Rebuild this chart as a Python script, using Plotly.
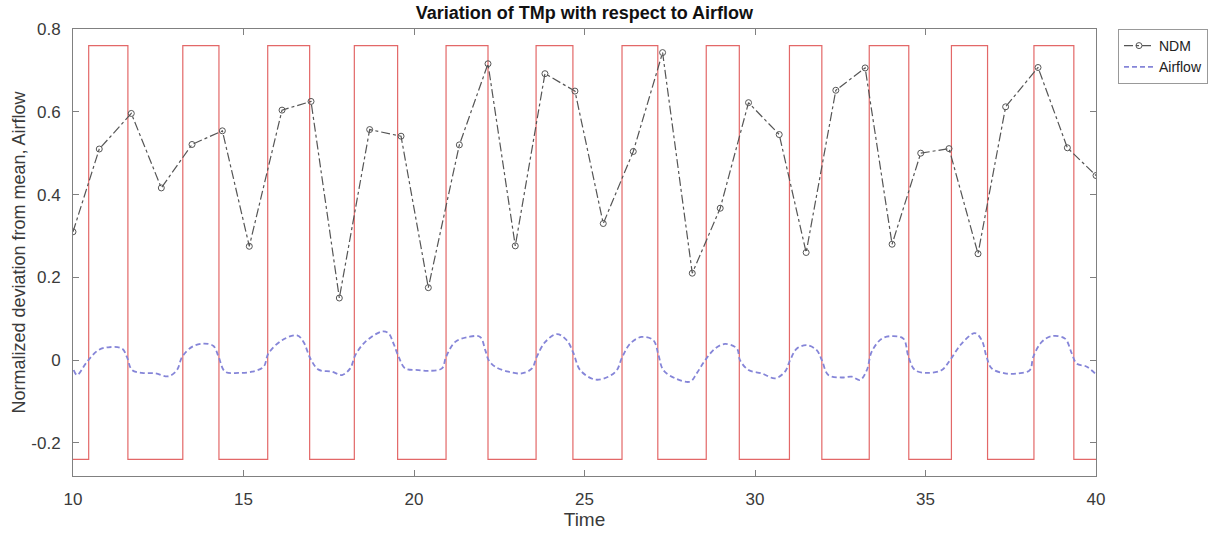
import plotly.graph_objects as go

# NDM samples (time, normalized deviation)
ndm_time = [10.0, 10.77, 11.71, 12.59, 13.49, 14.38, 15.17, 16.13, 16.98, 17.81,
            18.70, 19.62, 20.42, 21.33, 22.17, 22.97, 23.84, 24.72, 25.55, 26.43,
            27.29, 28.16, 28.98, 29.81, 30.71, 31.50, 32.37, 33.23, 34.02, 34.86,
            35.69, 36.54, 37.35, 38.30, 39.16, 40.0]
ndm_value = [0.31, 0.510, 0.596, 0.416, 0.521, 0.554, 0.275, 0.604, 0.625, 0.150,
             0.557, 0.541, 0.175, 0.520, 0.716, 0.276, 0.692, 0.650, 0.330, 0.504,
             0.743, 0.210, 0.367, 0.622, 0.545, 0.260, 0.652, 0.706, 0.280, 0.500,
             0.511, 0.257, 0.612, 0.707, 0.513, 0.446]

# Airflow response (time, normalized deviation)
air_time = [10.02, 10.12, 10.41, 10.74, 11.03, 11.44, 11.58, 11.73, 12.02, 12.41,
            12.80, 13.05, 13.20, 13.49, 13.83, 14.12, 14.27, 14.46, 14.85, 15.25,
            15.59, 15.73, 16.13, 16.57, 16.76, 16.96, 17.20, 17.59, 17.89, 18.13,
            18.28, 18.57, 19.06, 19.25, 19.40, 19.55, 19.74, 20.13, 20.43, 20.82,
            20.94, 21.21, 21.60, 21.94, 22.09, 22.19, 22.38, 22.77, 23.16, 23.46,
            23.60, 23.85, 24.19, 24.48, 24.68, 24.87, 25.31, 25.70, 25.95, 26.09,
            26.34, 26.68, 27.02, 27.17, 27.31, 27.66, 28.10, 28.29, 28.54, 28.83,
            29.12, 29.47, 29.56, 29.81, 30.20, 30.59, 30.88, 31.03, 31.23, 31.52,
            31.81, 31.96, 32.15, 32.54, 32.84, 33.08, 33.28, 33.42, 33.72, 34.01,
            34.35, 34.50, 34.69, 35.08, 35.48, 35.72, 36.06, 36.45, 36.65, 36.79,
            36.94, 37.33, 37.72, 38.06, 38.16, 38.41, 38.70, 39.09, 39.29, 39.43,
            39.73, 39.97]
air_value = [-0.024, -0.036, -0.004, 0.024, 0.031, 0.028, 0.008, -0.024, -0.031, -0.032,
             -0.039, -0.024, 0.008, 0.032, 0.040, 0.034, 0.008, -0.028, -0.031, -0.028,
             -0.016, 0.016, 0.048, 0.060, 0.044, 0.004, -0.023, -0.028, -0.036, -0.020,
             0.012, 0.044, 0.069, 0.065, 0.040, 0.008, -0.020, -0.024, -0.026, -0.020,
             0.008, 0.044, 0.056, 0.056, 0.024, 0.000, -0.016, -0.028, -0.032, -0.020,
             0.008, 0.044, 0.063, 0.048, 0.016, -0.024, -0.047, -0.040, -0.024, 0.004,
             0.040, 0.056, 0.048, 0.012, -0.024, -0.044, -0.052, -0.032, 0.000, 0.028,
             0.039, 0.028, 0.000, -0.024, -0.032, -0.044, -0.028, 0.000, 0.028, 0.036,
             0.024, 0.000, -0.036, -0.042, -0.040, -0.048, -0.024, 0.020, 0.052, 0.058,
             0.052, 0.008, -0.024, -0.031, -0.024, 0.000, 0.040, 0.065, 0.048, 0.008,
             -0.020, -0.032, -0.032, -0.024, 0.008, 0.044, 0.058, 0.052, 0.016, -0.008,
             -0.016, -0.032]

# Airflow on/off switching times and levels
switch_time = [10.0, 10.46, 11.61, 13.22, 14.28, 15.71, 16.94, 18.25, 19.52, 20.94,
               22.17, 23.58, 24.66, 26.10, 27.15, 28.57, 29.54, 31.01, 31.96, 33.35,
               34.51, 35.76, 36.82, 38.18, 39.35, 40.0]
switch_level = [-0.24, 0.76, -0.24, 0.76, -0.24, 0.76, -0.24, 0.76, -0.24, 0.76,
                -0.24, 0.76, -0.24, 0.76, -0.24, 0.76, -0.24, 0.76, -0.24, 0.76,
                -0.24, 0.76, -0.24, 0.76, -0.24, -0.24]

y_ticks = [-0.2, 0, 0.2, 0.4, 0.6, 0.8]
y_tick_text = ["-0.2", "0", "0.2", "0.4", "0.6", "0.8"]
x_ticks = [10, 15, 20, 25, 30, 35, 40]

FONT = "Liberation Sans, Arial, sans-serif"
TEXT = "#3a3a3a"

fig = go.Figure()

fig.add_trace(go.Scatter(
    x=switch_time, y=switch_level, mode="lines", line_shape="hv",
    line=dict(color="#e36868", width=1.2), showlegend=False, hoverinfo="skip",
))

fig.add_trace(go.Scatter(
    x=ndm_time, y=ndm_value, mode="lines+markers", name="NDM",
    line=dict(color="#555555", width=1.2, dash="dashdot"),
    marker=dict(symbol="circle-open", size=6, color="#555555", line=dict(width=1)),
))

fig.add_trace(go.Scatter(
    x=air_time, y=air_value, mode="lines", name="Airflow", line_shape="spline",
    line=dict(color="#8585d8", width=1.8, dash="5px,3px"),
))

axis_common = dict(
    showline=True, linecolor="#808080", linewidth=1, mirror="ticks",
    ticks="inside", ticklen=6, tickcolor="#808080", showgrid=False, zeroline=False,
    automargin=False,
    tickfont=dict(size=17, color=TEXT, family=FONT),
)

fig.update_xaxes(range=[10, 40], tickvals=x_ticks, ticklabelstandoff=8,
                 title=dict(text="Time", font=dict(size=19, color=TEXT, family=FONT), standoff=2),
                 **axis_common)
fig.update_yaxes(range=[-0.28, 0.8], tickvals=y_ticks, ticktext=y_tick_text,
                 ticklabelstandoff=8,
                 title=dict(text="Normalized deviation from mean, Airflow",
                            font=dict(size=18, color=TEXT, family=FONT), standoff=1),
                 **axis_common)

fig.update_layout(
    width=1215, height=533,
    margin=dict(l=73, r=119, t=29, b=57, autoexpand=False),
    paper_bgcolor="white", plot_bgcolor="white",
    font=dict(family=FONT, color=TEXT),
    title=dict(text="<b>Variation of TMp with respect to Airflow</b>",
               x=0.481, xanchor="center", y=0.977, yanchor="middle",
               font=dict(size=18, color="#111111", family=FONT)),
    legend=dict(x=1.0215, xanchor="left", y=1.0, yanchor="top",
                bordercolor="#999999", borderwidth=1, bgcolor="white",
                font=dict(size=14, color="#222222", family=FONT),
                itemwidth=30, tracegroupgap=0),
)

fig.write_html("out.html")
